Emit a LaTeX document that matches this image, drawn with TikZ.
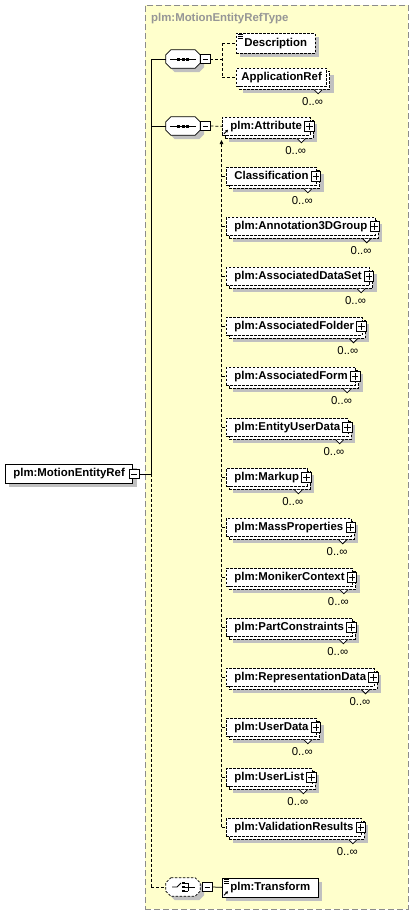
\documentclass[tikz,border=0pt]{standalone}
\usepackage{fontspec}
\setmainfont{Liberation Sans}
\usetikzlibrary{calc,arrows.meta}
\definecolor{bgyel}{RGB}{255,255,204}
\definecolor{shd}{RGB}{192,192,192}
\definecolor{ttl}{RGB}{150,150,150}
\definecolor{frm}{RGB}{140,140,140}
\newcommand\elfont{\fontsize{11.4}{13}\selectfont}
\tikzset{
 ln/.style={draw=black, line width=0.75pt},
 cn/.style={draw=black, line width=0.75pt, dash pattern=on 3pt off 2pt},
 dsh/.style={dash pattern=on 2.5pt off 1.5pt},
 elbase/.style={anchor=north west, inner xsep=8pt, inner ysep=0pt, text height=8.5pt, text depth=2.5pt,
   font=\bfseries\elfont, line width=0.75pt},
 single/.style={elbase, draw=black, fill=white, minimum height=19pt,
   preaction={fill=shd, draw=none, transform canvas={shift={(4pt,-4pt)}}}},
 multi/.style={elbase, draw=black, dsh, fill=white, minimum height=18pt,
   preaction={fill=shd, draw=none, transform canvas={shift={(7pt,-7pt)}}},
   preaction={draw=black, dsh, fill=white, line width=0.75pt, transform canvas={shift={(3pt,-3pt)}}}},
 mult/.style={inner sep=0pt, font=\elfont},
 minusb/.style={draw=black, fill=white, solid, line width=0.75pt, minimum size=9.5pt, inner sep=0pt,
   path picture={\draw[line width=0.75pt] ([xshift=2pt]path picture bounding box.west) -- ([xshift=-2pt]path picture bounding box.east);}},
 plusb/.style={draw=black, fill=white, solid, line width=0.75pt, minimum size=9.5pt, inner sep=0pt,
   path picture={\draw[line width=0.75pt] ([xshift=1.5pt]path picture bounding box.west) -- ([xshift=-1.5pt]path picture bounding box.east);
     \draw[line width=0.75pt] ([yshift=-1.5pt]path picture bounding box.north) -- ([yshift=1.5pt]path picture bounding box.south);}},
 seqn/.style={minimum width=34pt, minimum height=18pt, inner sep=0pt, draw=none},
 refarrow/.style={ln, -{Triangle[length=2.5pt,width=2.8pt]}},
}
% octagon outline around a node
\newcommand\octdraw[4]{%
 \path[#1] ([shift={(#3+5,#4)}]#2.north west) -- ([shift={(#3-5,#4)}]#2.north east) -- ([shift={(#3,#4+5)}]#2.north east) -- ([shift={(#3,#4-5)}]#2.south east) -- ([shift={(#3-5,#4)}]#2.south east) -- ([shift={(#3+5,#4)}]#2.south west) -- ([shift={(#3,#4-5)}]#2.south west) -- ([shift={(#3,#4+5)}]#2.north west) -- cycle;}
\newcommand\seqsym[1]{%
 \draw[ln] ([xshift=-13pt]#1.center) -- ([xshift=13pt]#1.center);
 \foreach \dx in {-4.5,0,4.5} {\fill ([shift={(\dx-1.5,-1.5)}]#1.center) rectangle ([shift={(\dx+1.5,1.5)}]#1.center);}}
\newcommand\chsym[1]{%
 \draw[ln] ([shift={(-11,0)}]#1.center) -- ([shift={(-6,0)}]#1.center) -- ([shift={(-2,-4)}]#1.center);
 \foreach \dy in {-4,0,4} {\fill ([shift={(-1,\dy-1)}]#1.center) rectangle ([shift={(1.5,\dy+1)}]#1.center);
   \draw[ln] ([shift={(1,\dy)}]#1.center) -- ([shift={(5,\dy)}]#1.center);}
 \draw[ln] ([shift={(5,-4)}]#1.center) -- ([shift={(5,4)}]#1.center);
 \draw[ln] ([shift={(5,0)}]#1.center) -- ([shift={(12,0)}]#1.center);}
\newcommand\docicon[1]{%
 \foreach \dy in {1.5,3.5,5.5} {\draw[line width=0.7pt] ([shift={(2,\dy)}]#1.north west) -- ([shift={(7,\dy)}]#1.north west);}}
% multiple element: name, x, y(top), text, plus(1/0)
\newcommand\multel[5]{%
 \node[multi] (#1) at (#2,#3) {#4\ifnum#5=1\hspace{5.5pt}\fi};
 \ifnum#5=1 \node[plusb] (#1-p) at ([xshift=-1pt]#1.east) {};\fi
 \draw[ln, fill=white] ([shift={(-13,3)}]#1.south east) -- ++(4,4) -- ++(4,-4);
 \node[mult, anchor=east] (#1-m) at ([shift={(-4,15)}]#1.south east) {0..∞};}
\newcommand\vstub[1]{\draw[cn] (vx |- #1.west) -- (#1.west);}

\begin{document}
\begin{tikzpicture}[x=1pt,y=-1pt]
\useasboundingbox (0,0) rectangle (414,916);
% frame
\node[draw=frm, line width=0.75pt, dash pattern=on 6pt off 3pt, fill=bgyel, anchor=north west,
  minimum width=263pt, minimum height=904pt, inner sep=0pt] (frame) at (145,5) {};
\node[anchor=west, text=ttl, font=\bfseries\elfont, inner sep=0pt] (title) at (151,19) {plm:MotionEntityRefType};

% root
\node[single] (root) at (5,464) {plm:MotionEntityRef\hspace{2pt}};
\node[minusb] (rootm) at ([xshift=1pt]root.east) {};

% sequence 1
\node[seqn] (s1) at (183,59) {};
\octdraw{fill=shd}{s1}{4}{4}
\octdraw{ln, fill=white}{s1}{0}{0}
\seqsym{s1}
\node[minusb, anchor=west] (s1m) at (s1.east) {};

% sequence 2
\node[seqn] (s2) at (183,126) {};
\octdraw{fill=shd}{s2}{4}{4}
\octdraw{ln, fill=white}{s2}{0}{0}
\seqsym{s2}
\node[minusb, anchor=west] (s2m) at (s2.east) {};

% choice
\node[seqn] (ch) at (183,887) {};
\octdraw{fill=shd}{ch}{4}{4}
\octdraw{ln, dsh, fill=white}{ch}{0}{0}
\chsym{ch}
\node[minusb, anchor=west] (chm) at ([xshift=2pt]ch.east) {};

% Description / ApplicationRef
\node[single, dsh, minimum height=20pt] (desc) at (236,33) {Description\hspace{1pt}};
\docicon{desc}
\begin{scope}[elbase/.append style={inner xsep=5pt}]
\multel{appref}{236}{68}{ApplicationRef}{0}
\end{scope}

% sequence 2 children
\multel{attr}{222}{117}{plm:Attribute}{1}
\draw[refarrow] ([shift={(2,-2)}]attr.south west) -- ([shift={(6,-6)}]attr.south west);
\multel{class}{226}{167}{Classification}{1}
\multel{ann}{226}{217}{plm:Annotation3DGroup}{1}
\multel{ds}{226}{267}{plm:AssociatedDataSet}{1}
\multel{fold}{226}{317}{plm:AssociatedFolder}{1}
\multel{form}{226}{367}{plm:AssociatedForm}{1}
\multel{eud}{226}{418}{plm:EntityUserData}{1}
\multel{mark}{226}{468}{plm:Markup}{1}
\multel{mass}{226}{518}{plm:MassProperties}{1}
\multel{mon}{226}{568}{plm:MonikerContext}{1}
\multel{part}{226}{618}{plm:PartConstraints}{1}
\multel{repr}{226}{668}{plm:RepresentationData}{1}
\multel{ud}{226}{718}{plm:UserData}{1}
\multel{ul}{226}{768}{plm:UserList}{1}
\multel{vr}{226}{818}{plm:ValidationResults}{1}

% transform
\node[single] (transf) at (222,877.5) {plm:Transform\hspace{1pt}};
\docicon{transf}
\draw[refarrow] ([shift={(2,-2)}]transf.south west) -- ([shift={(6,-6)}]transf.south west);

% connectors
\coordinate (tx) at (151,0);
\coordinate (bx) at (222,0);
\coordinate (vx) at (221.5,140);
\draw[ln] (rootm.east) -- (tx |- rootm.east);
\draw[ln] (tx |- s1.west) -- (tx |- rootm.east);
\draw[cn] (tx |- rootm.east) -- (tx |- ch.west);
\draw[ln] (tx |- s1.west) -- (s1.west);
\draw[ln] (tx |- s2.west) -- (s2.west);
\draw[cn] (tx |- ch.west) -- (ch.west);

\draw[cn] (s1m.east) -- (bx |- s1m.east);
\draw[cn] (bx |- desc.west) -- (bx |- appref.west);
\draw[cn] (bx |- desc.west) -- (desc.west);
\draw[cn] (bx |- appref.west) -- (appref.west);

\draw[cn] (s2m.east) -- (attr.west);
\draw[cn, -{Triangle[length=4pt,width=3.5pt]}] (vx |- vr.west) -- (vx);
\vstub{class}\vstub{ann}\vstub{ds}\vstub{fold}\vstub{form}\vstub{eud}\vstub{mark}
\vstub{mass}\vstub{mon}\vstub{part}\vstub{repr}\vstub{ud}\vstub{ul}\vstub{vr}

\draw[ln] (chm.east) -- (transf.west);
\end{tikzpicture}
\end{document}
